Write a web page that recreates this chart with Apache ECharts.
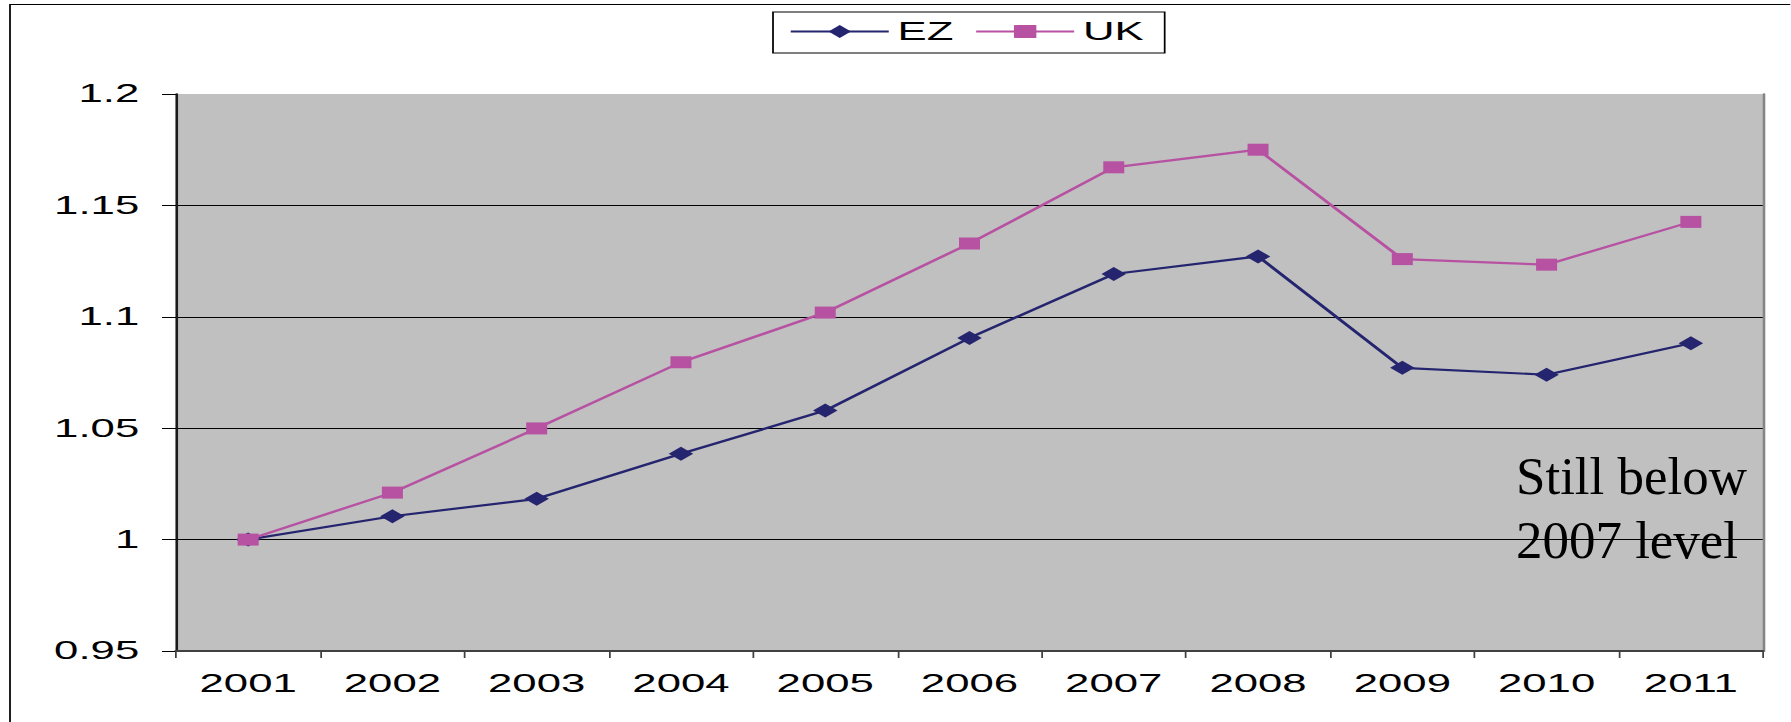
<!DOCTYPE html>
<html>
<head>
<meta charset="utf-8">
<script src="https://cdn.jsdelivr.net/npm/echarts@6/dist/echarts.min.js"></script>
<style>
  html, body { margin: 0; padding: 0; background: #ffffff; overflow: hidden; }
  #chart { position: absolute; left: 0; top: 0; height: 722px; transform-origin: 0 0; }
</style>
</head>
<body>
<div id="chart"></div>
<script>
// Index of output, 2001 = 1
const years = ['2001', '2002', '2003', '2004', '2005', '2006', '2007', '2008', '2009', '2010', '2011'];
const ezValues = [1.000, 1.0105, 1.0183, 1.0385, 1.0579, 1.0905, 1.1192, 1.1271, 1.0771, 1.0740, 1.0881];
const ukValues = [1.000, 1.0211, 1.0499, 1.0796, 1.1019, 1.1329, 1.1671, 1.1750, 1.1259, 1.1234, 1.1426];
const seriesNames = ['EZ', 'UK'];
const yMin = 0.95;
const yMax = 1.2;
const yStep = 0.05;
const noteText = 'Still below\n2007 level';

// The chart is laid out narrow and widened as a whole, giving the broad lettering and markers.
const PAGE_W = 1791;
const STRETCH = 1.75;
const px = v => v / STRETCH;   // page x -> layout x

const el = document.getElementById('chart');
el.style.width = px(PAGE_W) + 'px';
el.style.transform = 'scaleX(' + STRETCH + ')';

const chart = echarts.init(el, null, { renderer: 'svg', width: px(PAGE_W), height: 722 });

const sansFont = 'Liberation Sans';
const EZ_COLOR = '#24246f';
const UK_COLOR = '#b751a2';

chart.setOption({
  animation: false,
  backgroundColor: '#ffffff',
  legend: {
    data: seriesNames,
    left: px(773),
    top: 12,
    orient: 'horizontal',
    padding: [7, px(21), 9, px(16)],
    itemWidth: px(98),
    itemHeight: 16,
    itemGap: px(21),
    borderColor: '#000000',
    borderWidth: 1,
    backgroundColor: '#ffffff',
    textStyle: { fontFamily: sansFont, fontSize: 25, color: '#000000' }
  },
  grid: {
    left: px(176),
    right: px(PAGE_W - 1763),
    top: 94,
    bottom: 71,
    show: true,
    backgroundColor: '#c0c0c0',
    borderWidth: 0,
    containLabel: false,
    outerBoundsMode: 'none'
  },
  xAxis: {
    type: 'category',
    data: years,
    boundaryGap: true,
    axisLine: { show: true, lineStyle: { color: '#404040', width: 2 } },
    axisTick: { show: true, length: 7, alignWithLabel: false, lineStyle: { color: '#404040', width: 1 } },
    axisLabel: { fontFamily: sansFont, fontSize: 25, color: '#000000', margin: 20, interval: 0 },
    splitLine: { show: false }
  },
  yAxis: [
    {
      type: 'value',
      min: yMin,
      max: yMax,
      interval: yStep,
      axisLine: { show: true, lineStyle: { color: '#1a1a1a', width: 1.5 } },
      axisTick: { show: true, length: 8, lineStyle: { color: '#000000', width: 1 } },
      axisLabel: { fontFamily: sansFont, fontSize: 25, color: '#000000', margin: 21 },
      splitLine: { show: true, showMinLine: false, showMaxLine: false, lineStyle: { color: '#000000', width: 1 } }
    },
    {
      type: 'value',
      position: 'right',
      min: yMin,
      max: yMax,
      interval: yStep,
      axisLine: { show: true, lineStyle: { color: '#858585', width: 1.5 } },
      axisTick: { show: false },
      axisLabel: { show: false },
      splitLine: { show: false }
    }
  ],
  series: [
    {
      name: seriesNames[0],
      type: 'line',
      data: ezValues,
      symbol: 'diamond',
      symbolSize: 14,
      showAllSymbol: true,
      itemStyle: { color: EZ_COLOR },
      lineStyle: { color: EZ_COLOR, width: 2.2 },
      z: 3
    },
    {
      name: seriesNames[1],
      type: 'line',
      data: ukValues,
      symbol: 'rect',
      symbolSize: 12,
      showAllSymbol: true,
      itemStyle: { color: UK_COLOR },
      lineStyle: { color: UK_COLOR, width: 2.2 },
      z: 4
    }
  ],
  graphic: [
    {
      // chart-area frame along the top and left edges
      type: 'polyline',
      shape: { points: [[px(10), 900], [px(10), 4.5], [px(PAGE_W) + 50, 4.5]] },
      style: { stroke: '#000000', lineWidth: 1, fill: null },
      silent: true,
      z: 20
    },
    {
      type: 'text',
      x: px(1516),
      y: 444,
      scaleX: 1 / STRETCH,
      style: {
        text: noteText,
        fontFamily: 'Liberation Serif',
        fontSize: 53,
        lineHeight: 64,
        fill: '#000000',
        align: 'left',
        verticalAlign: 'top'
      },
      silent: true,
      z: 20
    }
  ]
});
</script>
</body>
</html>
